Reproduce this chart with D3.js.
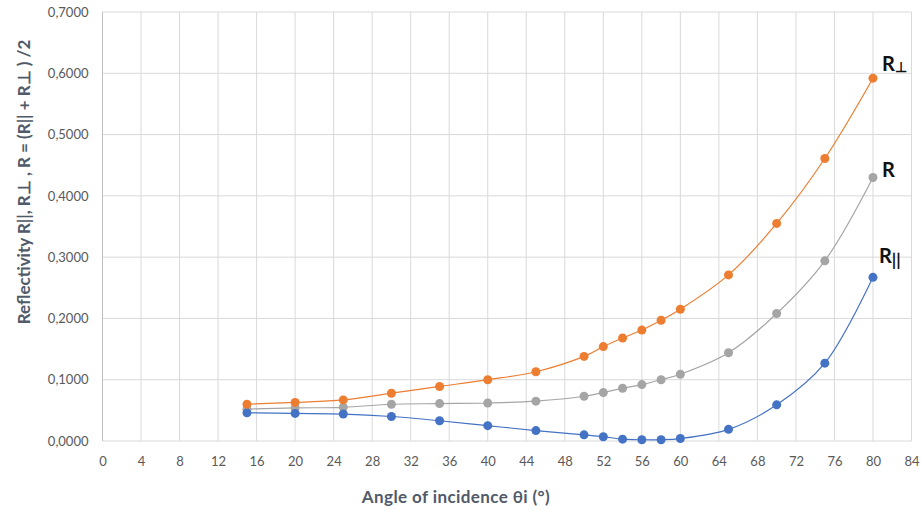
<!DOCTYPE html>
<html><head><meta charset="utf-8">
<script src="https://cdn.jsdelivr.net/npm/d3@7"></script>
<style>body{margin:0;background:#fff}svg{display:block}</style>
</head><body><svg id="c" width="922" height="510"></svg>
<script>
const angles = [15,20,25,30,35,40,45,50,52,54,56,58,60,65,70,75,80];
const rPerp  = [0.060,0.063,0.067,0.078,0.089,0.100,0.113,0.138,0.154,0.168,0.181,0.197,0.215,0.271,0.355,0.461,0.592];
const rMean  = [0.052,0.054,0.055,0.060,0.061,0.062,0.065,0.073,0.079,0.086,0.092,0.100,0.109,0.144,0.208,0.294,0.430];
const rPar   = [0.046,0.045,0.044,0.040,0.033,0.025,0.017,0.010,0.007,0.003,0.002,0.002,0.004,0.019,0.059,0.127,0.267];
const xTicks = d3.range(0, 85, 4);
const yTicks = [0,0.1,0.2,0.3,0.4,0.5,0.6,0.7];
const seriesNames = ["R", "R||", "R⊥"];
const colors = ["#A5A5A5", "#4472C4", "#ED7D31"];

const svg = d3.select("#c");
const L = 102.5, R = 911.5, T = 12, B = 441;
const x = d3.scaleLinear().domain([0,84]).range([L,R]);
const y = d3.scaleLinear().domain([0,0.7]).range([B,T]);
const font = "Lato, 'Open Sans', sans-serif";

// grid
svg.append("g").selectAll("line").data(yTicks).join("line")
  .attr("x1",L).attr("x2",R).attr("y1",d=>y(d)).attr("y2",d=>y(d))
  .attr("stroke","#d9d9d9").attr("stroke-width",1);
svg.append("g").selectAll("line").data(xTicks).join("line")
  .attr("x1",d=>x(d)).attr("x2",d=>x(d)).attr("y1",T).attr("y2",B)
  .attr("stroke",d=>d===0?"#bfbfbf":"#d9d9d9").attr("stroke-width",1);

// axes labels via d3 axes
const xAxis = svg.append("g").attr("transform",`translate(0,${B})`)
  .call(d3.axisBottom(x).tickValues(xTicks).tickSize(0).tickPadding(16).tickFormat(d3.format("d")));
const yAxis = svg.append("g").attr("transform",`translate(${L},0)`)
  .call(d3.axisLeft(y).tickValues(yTicks).tickSize(0).tickPadding(14).tickFormat(d=>d3.format(".4f")(d).replace(".",",")));
[xAxis,yAxis].forEach(a=>{
  a.select(".domain").remove();
  a.selectAll("text").attr("fill","#595959").attr("font-size",13).attr("font-family",font);
});

// series
const data = [rMean, rPar, rPerp];
const line = d3.line().x((d,i)=>x(angles[i])).y(d=>y(d)).curve(d3.curveCatmullRom.alpha(0.5));
data.forEach((vals,k)=>{
  const g = svg.append("g");
  g.append("path").attr("d",line(vals)).attr("fill","none").attr("stroke",colors[k]).attr("stroke-width",1.2);
  g.selectAll("circle").data(vals).join("circle")
    .attr("cx",(d,i)=>x(angles[i])).attr("cy",d=>y(d)).attr("r",4.5).attr("fill",colors[k]);
});

// series labels
const lab = svg.append("g").attr("font-family",font).attr("font-weight","bold").attr("fill","#111");
const last = angles.length-1;
let t = lab.append("text").attr("x",x(80)+9).attr("y",y(rPerp[last])-7).attr("font-size",20);
t.append("tspan").text("R"); t.append("tspan").attr("font-size",14).attr("dy",1).text("⊥");
lab.append("text").attr("x",x(80)+9).attr("y",y(rMean[last])+0).attr("font-size",20).text("R");
t = lab.append("text").attr("x",x(80)+6).attr("y",y(rPar[last])-14).attr("font-size",20);
t.append("tspan").text("R"); t.append("tspan").attr("font-size",17).attr("dy",3).text("||");

// axis titles
svg.append("text").attr("x",456).attr("y",503).attr("text-anchor","middle")
  .attr("font-family",font).attr("font-weight","bold").attr("font-size",17).attr("letter-spacing",0.4).attr("fill","#505a68")
  .text("Angle of incidence θi (°)");
svg.append("text").attr("transform","translate(30,182) rotate(-90)").attr("text-anchor","middle")
  .attr("font-family",font).attr("font-weight","bold").attr("font-size",17).attr("fill","#505a68")
  .text("Reflectivity R||, R⊥ , R = (R|| + R⊥ ) /2");
</script></body></html>
